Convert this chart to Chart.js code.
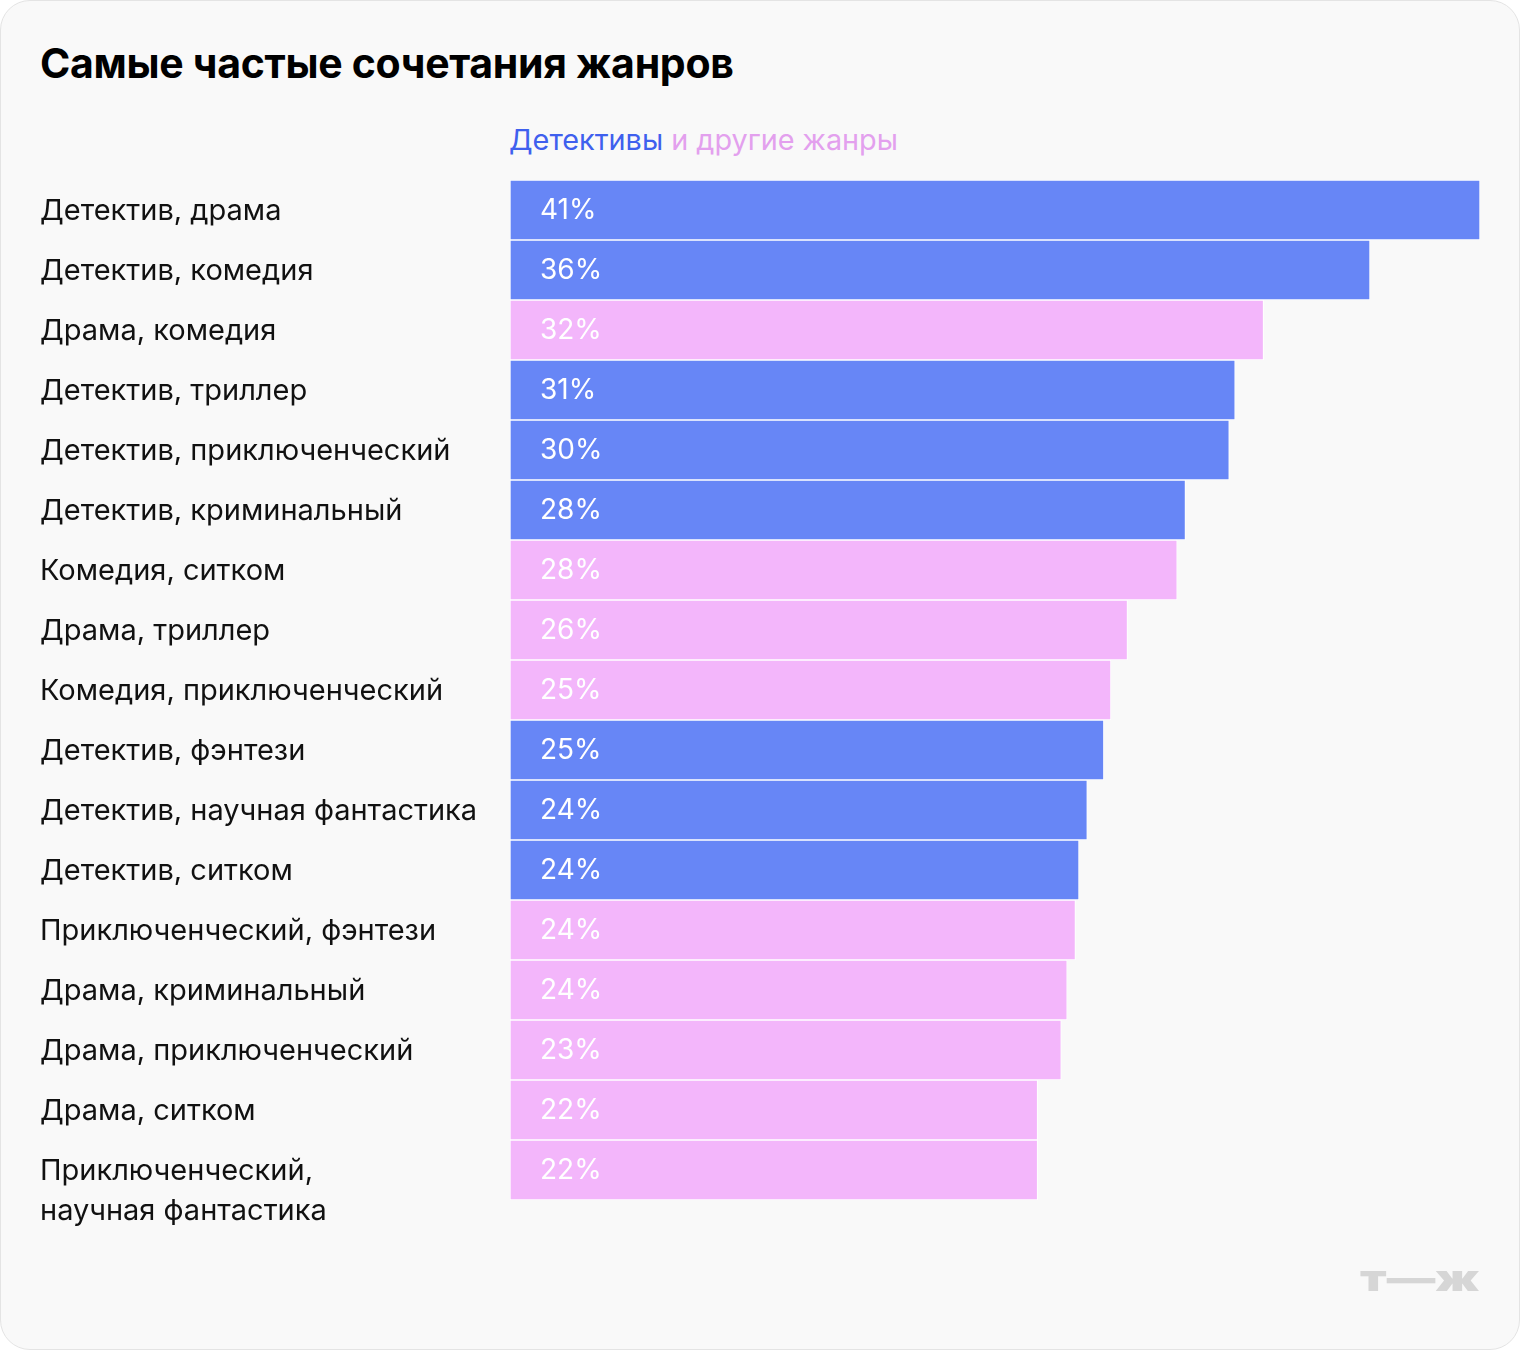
<!DOCTYPE html>
<html>
<head>
    <title>Самые частые сочетания жанров</title>
    <meta charset="UTF-8">
    <style>
        body { margin: 0; padding: 0; background: #fff; font-family: Inter, Roboto, sans-serif; }
        #card {
            position: relative;
            width: 1518px; height: 1348px;
            background: #f9f9f9;
            border: 1px solid #e4e4e4;
            border-radius: 30px;
            overflow: hidden;
        }
        #card h1 {
            position: absolute; left: 39px; top: 37px; margin: 0;
            font-size: 41px; font-weight: 700; color: #000; letter-spacing: -0.3px;
        }
        #legend {
            position: absolute; left: 508px; top: 121px;
            font-size: 28.8px; color: #e3a0ee;
        }
        #legend .det { color: #3f60ee; }
        #logo {
            position: absolute; left: 1359px; top: 1255px;
            font-size: 36px; font-weight: 900; color: #d6d6d6;
            transform: scaleX(1.35); transform-origin: left center;
        }
        #chart-container { position: absolute; left: -1px; top: -1px; width: 1520px; height: 1350px; }
    </style>
</head>
<body>
    <div id="card">
        <h1>Самые частые сочетания жанров</h1>
        <div id="legend"><span class="det">Детективы</span> и другие жанры</div>
        <div id="chart-container"><canvas id="genreChart"></canvas></div>
        <div id="logo">т—ж</div>
    </div>

    <script src="https://cdn.jsdelivr.net/npm/chart.js"></script>
    <script>
        const categories = [
            ['Детектив, драма'],
            ['Детектив, комедия'],
            ['Драма, комедия'],
            ['Детектив, триллер'],
            ['Детектив, приключенческий'],
            ['Детектив, криминальный'],
            ['Комедия, ситком'],
            ['Драма, триллер'],
            ['Комедия, приключенческий'],
            ['Детектив, фэнтези'],
            ['Детектив, научная фантастика'],
            ['Детектив, ситком'],
            ['Приключенческий, фэнтези'],
            ['Драма, криминальный'],
            ['Драма, приключенческий'],
            ['Драма, ситком'],
            ['Приключенческий,', 'научная фантастика']
        ];
        // bar lengths, %
        const shares = [41.0, 36.35, 31.85, 30.65, 30.4, 28.55, 28.2, 26.1, 25.4, 25.1, 24.4, 24.05, 23.9, 23.55, 23.3, 22.3, 22.3];
        const shareLabels = ['41%', '36%', '32%', '31%', '30%', '28%', '28%', '26%', '25%', '25%', '24%', '24%', '24%', '24%', '23%', '22%', '22%'];
        // true = detective pair
        const isDetective = [true, true, false, true, true, true, false, false, false, true, true, true, false, false, false, false, false];

        const blue = '#6786f6';
        const pink = '#f3b6fb';

        const labelsPlugin = {
            id: 'labelsPlugin',
            afterDatasetsDraw(chart) {
                const ctx = chart.ctx;
                const yScale = chart.scales.y;
                const area = chart.chartArea;
                ctx.save();
                ctx.textBaseline = 'middle';
                categories.forEach((lines, i) => {
                    const y = yScale.getPixelForValue(i) + 1;
                    ctx.font = '29px Inter, Roboto, sans-serif';
                    ctx.fillStyle = '#111';
                    ctx.textAlign = 'left';
                    lines.forEach((line, k) => {
                        ctx.fillText(line, 40, y + k * 40);
                    });
                    ctx.font = '28px Inter, Roboto, sans-serif';
                    ctx.fillStyle = '#fff';
                    ctx.fillText(shareLabels[i], area.left + 30, y);
                });
                ctx.restore();
            }
        };

        window.onload = function () {
            const ctx = document.getElementById('genreChart').getContext('2d');
            new Chart(ctx, {
                type: 'bar',
                data: {
                    labels: categories.map(c => c.join(' ')),
                    datasets: [{
                        data: shares,
                        backgroundColor: isDetective.map(d => d ? blue : pink),
                        borderColor: '#ffffff',
                        borderWidth: 1,
                        borderSkipped: false,
                        barPercentage: 1,
                        categoryPercentage: 1
                    }]
                },
                options: {
                    indexAxis: 'y',
                    responsive: true,
                    maintainAspectRatio: false,
                    animation: false,
                    layout: { padding: { left: 40, right: 40, top: 180, bottom: 150 } },
                    plugins: {
                        legend: { display: false },
                        tooltip: { enabled: false }
                    },
                    scales: {
                        x: { display: false, min: 0, max: 41 },
                        y: {
                            grid: { display: false },
                            border: { display: false },
                            ticks: { display: false },
                            afterFit(scale) { scale.width = 470; }
                        }
                    }
                },
                plugins: [labelsPlugin]
            });
        };
    </script>
</body>
</html>
